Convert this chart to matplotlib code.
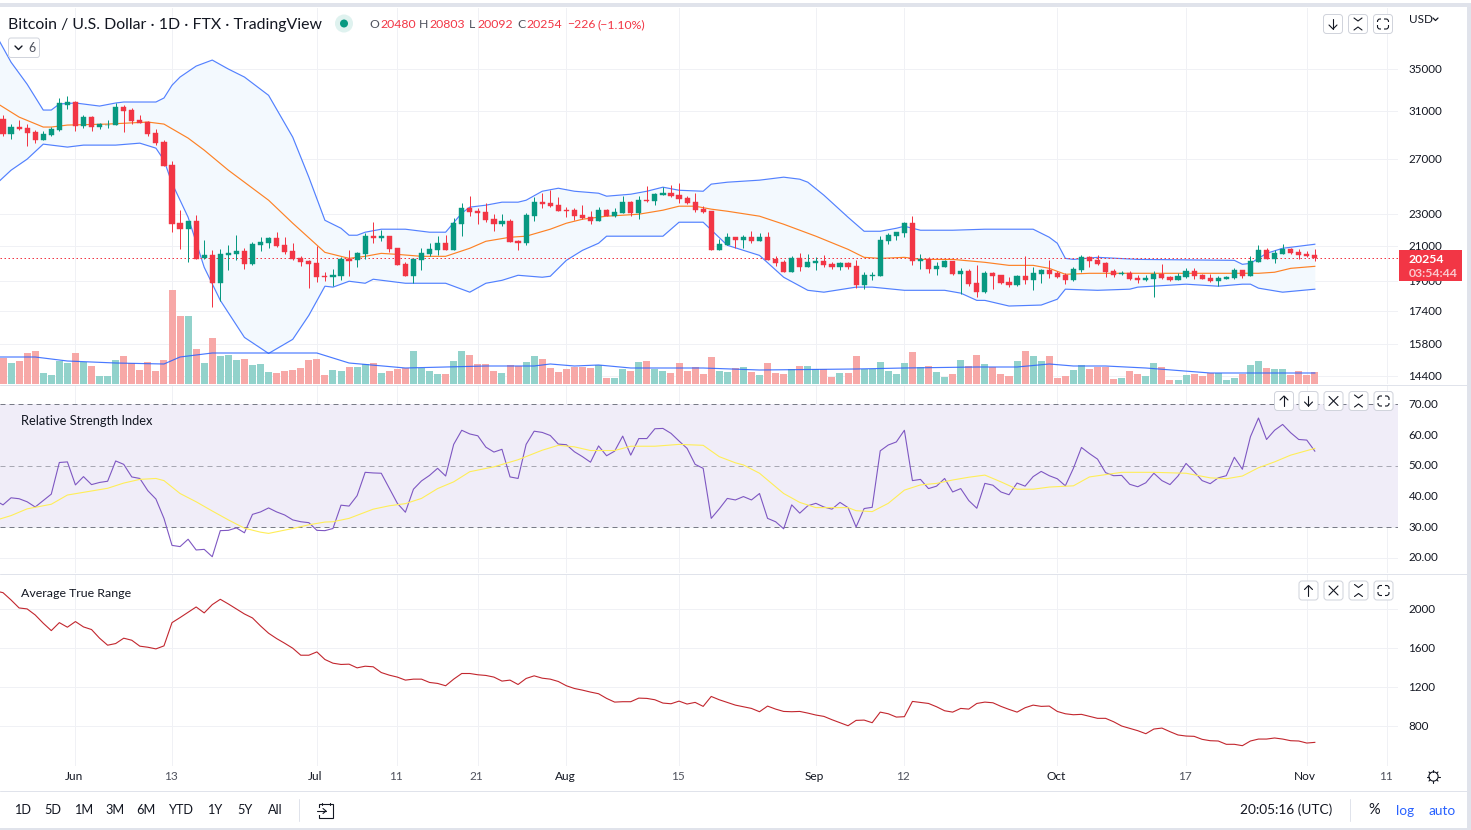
import numpy as np
import matplotlib
matplotlib.use('Agg')
import matplotlib.pyplot as plt
from matplotlib.patches import FancyBboxPatch, Rectangle, Circle
from matplotlib.transforms import ScaledTranslation

W, H = 1471, 830
FONT = 'Lato'
plt.rcParams['font.family'] = [FONT, 'DejaVu Sans']

open_p = [30290, 29005, 29600, 29510, 29170, 28500, 28920, 29340, 31545, 31818, 29685, 30465, 29600, 29770, 29770, 31363,
          31090, 30200, 30030, 29090, 28340, 26510, 22420, 22035, 22550, 20255, 20430, 18850, 20430, 20490, 20670, 19910,
          21035, 21160, 21470, 21035, 20670, 20255, 20080, 19965, 19235, 19180, 19235, 20195, 20140, 20490, 21595, 21470,
          21595, 20855, 19910, 19235, 20140, 20490, 20730, 21160, 20730, 22355, 23415, 23210, 23145, 22680, 22355, 22550,
          21280, 21160, 22880, 23825, 23755, 23620, 23280, 23280, 22945, 22810, 22550, 23280, 22880, 23080, 23825, 23080,
          23960, 23890, 24310, 24450, 24310, 24100, 23825, 23350, 23210, 20730, 21035, 21530, 21340, 21530, 21280, 21530,
          20195, 20025, 19460, 20255, 19740, 19965, 20080, 19910, 19740, 19965, 19795, 18745, 19235, 19235, 21280, 21595,
          21780, 22420, 20080, 20195, 19625, 19740, 20080, 19345, 19515, 18850, 18370, 19400, 19290, 18905, 18745, 19235,
          19010, 19345, 19570, 19400, 19290, 19010, 19570, 20315, 20140, 19965, 19515, 19375, 19400, 19125, 19010, 19070,
          19345, 19180, 19010, 19180, 19515, 19290, 19125, 18960, 19070, 19125, 19570, 19235, 20025, 20730, 20195, 20490,
          20790, 20610, 20490, 20480]
high_p = [30645, 29855, 30200, 29855, 29340, 29255, 29600, 32190, 32370, 31909, 30645, 30555, 29940, 30200, 31727, 31545,
          31272, 30645, 30115, 29425, 28500, 26825, 23280, 22550, 22945, 21340, 20730, 20790, 21035, 21655, 20855, 21220,
          21530, 21530, 21845, 21530, 21160, 20375, 20140, 20975, 19460, 19625, 20315, 20730, 20610, 21780, 22485, 21970,
          21595, 20855, 20025, 20195, 20855, 21160, 21595, 21655, 22745, 23755, 24240, 23415, 23755, 23010, 23010, 22680,
          21340, 23080, 24170, 24450, 24660, 24170, 23485, 23415, 23620, 23210, 23485, 23350, 23415, 24240, 23890, 24240,
          24950, 24450, 24880, 25025, 25170, 24240, 24450, 23550, 23210, 21405, 21780, 21530, 21655, 21905, 21780, 21845,
          20375, 20140, 20375, 20550, 20490, 20315, 20430, 20025, 20025, 20025, 20140, 19460, 19460, 21595, 21780, 21845,
          22485, 22880, 20490, 20315, 20025, 20140, 20080, 19680, 19625, 19850, 19515, 19460, 19290, 19180, 19290, 20375,
          19740, 19625, 20140, 19515, 19400, 19740, 20430, 20375, 20430, 20025, 19625, 19515, 19515, 19290, 19290, 19515,
          19910, 19235, 19400, 19680, 19680, 19345, 19345, 19235, 19235, 19680, 19570, 20375, 21035, 20855, 20730, 21100,
          20855, 20790, 20670, 20803]
low_p = [28835, 28585, 29340, 28015, 28255, 28500, 28835, 29255, 31181, 29255, 29510, 29255, 29425, 29510, 29770, 29170,
         29855, 29940, 28835, 28095, 26435, 21845, 20790, 20025, 20195, 20195, 17600, 17900, 19570, 20140, 19625, 19850,
         20670, 20855, 20915, 20490, 20140, 19795, 18585, 18905, 18960, 18690, 19010, 19235, 19740, 20195, 21160, 21280,
         20610, 19850, 19235, 18850, 19570, 20375, 20430, 20730, 20730, 21595, 22880, 22355, 22485, 21905, 22225, 21220,
         20730, 21035, 22550, 23415, 23485, 23210, 22810, 22610, 22680, 22355, 22550, 22880, 22810, 23080, 22880, 22680,
         23825, 23620, 24310, 24170, 23755, 23690, 23145, 23080, 20730, 20730, 21035, 20855, 20855, 21160, 21280, 20140,
         19795, 19460, 19460, 19515, 19740, 19570, 19740, 19625, 19570, 19625, 18585, 18530, 19010, 19235, 21100, 21340,
         21530, 19850, 19625, 19400, 19290, 19740, 19290, 18265, 18690, 18110, 18320, 18530, 18800, 18640, 18690, 18800,
         18470, 18850, 19125, 19125, 18800, 18960, 19460, 19740, 19850, 19180, 19180, 19290, 19010, 18850, 18960, 18110,
         19070, 18960, 19010, 19125, 19070, 19070, 18905, 18690, 19070, 19070, 19125, 19235, 20025, 20195, 19965, 20490,
         20490, 20195, 20315, 20092]
close_p = [29005, 29600, 29425, 29090, 28500, 29005, 29425, 31727, 31818, 29685, 30465, 29600, 29855, 29810, 31363, 31000,
           30115, 29940, 29005, 28255, 26435, 22355, 22035, 22550, 20195, 20430, 18850, 20490, 20550, 20670, 19910, 21100,
           21220, 21470, 20975, 20610, 20195, 20025, 19910, 19180, 19180, 19290, 20195, 20080, 20550, 21595, 21470, 21595,
           20790, 19850, 19235, 20195, 20550, 20790, 21160, 20730, 22420, 23415, 23145, 23080, 22610, 22355, 22550, 21220,
           21160, 22945, 23825, 23690, 23550, 23210, 23210, 22880, 22745, 22550, 23280, 22880, 23145, 23825, 23080, 23960,
           23890, 24380, 24450, 24240, 24030, 23755, 23280, 23145, 20730, 21100, 21530, 21340, 21530, 21280, 21530, 20140,
           19965, 19460, 20255, 19740, 20025, 20080, 19850, 19740, 19965, 19740, 18745, 19290, 19290, 21340, 21655, 21845,
           22420, 20080, 20195, 19625, 19795, 20080, 19345, 19515, 18800, 18370, 19400, 19235, 18850, 18745, 19235, 19010,
           19400, 19570, 19345, 19180, 19010, 19625, 20315, 20080, 19910, 19460, 19290, 19430, 19070, 19010, 19125, 19345,
           19125, 19010, 19235, 19515, 19235, 19070, 18960, 19125, 19180, 19570, 19235, 20080, 20730, 20195, 20550, 20790,
           20550, 20430, 20375, 20254]

volume = [26, 21, 23, 31, 33, 11, 9, 23, 21, 31, 22, 18, 8, 8, 24, 28, 21, 14, 22, 13, 24, 94, 68, 68, 35, 21, 46, 28, 29, 24,
          25, 19, 20, 12, 11, 13, 14, 16, 24, 25, 9, 14, 13, 17, 17, 20, 21, 11, 13, 15, 16, 33, 16, 13, 10, 10, 23, 33, 29,
          20, 20, 13, 11, 19, 18, 22, 28, 25, 16, 12, 15, 17, 17, 16, 19, 6, 6, 15, 13, 22, 23, 15, 13, 11, 21, 13, 17, 10,
          27, 13, 12, 16, 17, 12, 9, 21, 11, 10, 15, 18, 18, 15, 15, 7, 11, 11, 28, 15, 15, 22, 13, 10, 21, 32, 17, 18, 12,
          7, 10, 24, 18, 29, 20, 17, 10, 8, 23, 33, 28, 23, 28, 6, 8, 14, 19, 15, 17, 17, 5, 6, 13, 10, 8, 21, 17, 4, 4, 9,
          10, 8, 11, 11, 4, 6, 10, 19, 23, 16, 15, 15, 9, 13, 9, 12]
vol_ma_days = [-1, 4, 8, 14, 20, 22, 26, 39, 43, 50, 60, 66, 68, 71, 74, 78, 87, 94, 106, 112, 121, 126, 130, 133, 137, 142, 150, 163]
vol_ma = [27, 27, 23, 21, 20, 27, 31, 31, 21, 16, 18, 18, 20, 18, 19, 16, 16, 14, 15, 16, 17, 17, 20, 18, 18, 16, 11, 11]

# Bollinger bands, read where the curves bend
bb_upper_days = [-1, 1, 3, 5, 6, 7, 9, 12, 14, 15, 19, 20, 21, 22, 24, 26, 28, 30, 33, 36, 38, 40, 42, 43, 44, 45, 47, 50, 53, 55,
                 57, 58, 60, 62, 64, 65, 67, 69, 71, 74, 75, 78, 80, 82, 84, 87, 88, 90, 94, 97, 99, 100, 102, 105, 107, 109,
                 111, 112, 114, 118, 122, 128, 130, 131, 132, 133, 136, 141, 153, 154, 155, 157, 159, 161, 163]
bb_upper = [38840, 35700, 33500, 31090, 31090, 31640, 31730, 31450, 31730, 31820, 31820, 32190, 33400, 34200, 35300, 35920, 35000,
            34200, 32440, 28750, 25610, 22610, 22095, 21655, 21655, 21845, 22035, 22035, 21845, 21845, 23080, 23485, 23620,
            23825, 23825, 23960, 24590, 24805, 24590, 24450, 24240, 24380, 24590, 24880, 24660, 24590, 25100, 25240, 25390,
            25610, 25460, 25240, 24310, 22810, 21905, 21905, 22095, 22225, 21970, 21970, 22035, 22035, 21530, 21160, 20255,
            20195, 20315, 20195, 20140, 19910, 19965, 20550, 20855, 20975, 21100]
bb_basis_days = [-1, 2, 5, 6, 8, 13, 18, 20, 23, 25, 28, 30, 33, 36, 40, 43, 45, 47, 49, 52, 55, 58, 60, 63, 65, 68, 70, 72, 75, 77,
                 79, 82, 84, 86, 88, 90, 94, 97, 101, 105, 107, 109, 112, 114, 118, 122, 125, 128, 130, 132, 135, 141, 147, 153,
                 156, 158, 160, 163]
bb_basis = [31820, 30465, 29600, 29600, 29770, 29855, 30030, 29855, 28670, 27690, 26130, 25240, 23960, 22420, 20610, 20255, 20375,
            20550, 20490, 20375, 20375, 20855, 21280, 21530, 21595, 22035, 22420, 22680, 22880, 22945, 23010, 23280, 23550, 23550,
            23350, 23210, 22880, 22355, 21595, 20790, 20315, 20255, 20315, 20195, 20195, 20025, 19850, 19850, 19680, 19345, 19400,
            19400, 19400, 19400, 19400, 19460, 19680, 19795]
bb_lower_days = [-1, 1, 3, 5, 8, 10, 14, 17, 19, 20, 21, 23, 25, 27, 30, 33, 36, 38, 40, 41, 43, 45, 46, 50, 55, 58, 60, 62, 64, 67,
                 68, 70, 72, 74, 75, 82, 84, 87, 90, 94, 97, 100, 102, 106, 108, 112, 117, 119, 121, 122, 125, 129, 131, 132, 136,
                 140, 141, 147, 151, 154, 155, 156, 159, 163]
bb_lower = [25025, 26130, 26980, 28175, 27935, 28095, 28095, 28255, 27850, 26900, 25170, 22810, 19740, 17940, 16120, 15390, 16030,
            17180, 18690, 18640, 18960, 18850, 19070, 18850, 18850, 18370, 18850, 19010, 19290, 19180, 19235, 20140, 20730, 21160,
            21595, 21595, 22485, 22485, 21035, 20430, 19180, 18470, 18370, 18640, 18640, 18470, 18470, 18320, 17940, 17940, 17650,
            17700, 18000, 18530, 18470, 18530, 18640, 18800, 18690, 18800, 18800, 18585, 18370, 18530]

# RSI starts one day left of the first candle
rsi = [38.8, 37.3, 39.6, 39.3, 38.3, 36.6, 38.7, 40.8, 51.1, 51.3, 43.8, 46.5, 43.9, 44.6, 45.0, 51.6, 50.5, 46.4, 45.9, 41.9, 39.2,
       32.9, 24.1, 23.7, 26.1, 22.6, 22.8, 20.4, 28.9, 29.0, 29.8, 28.2, 34.2, 35.0, 36.3, 35.0, 34.0, 32.4, 31.8, 31.5, 29.0, 28.9,
       29.6, 37.2, 36.9, 40.3, 47.9, 47.7, 47.6, 42.7, 37.8, 34.9, 42.4, 45.1, 46.9, 49.2, 46.7, 57.0, 61.6, 60.4, 59.8, 56.1, 54.5,
       55.4, 46.4, 45.9, 57.0, 61.3, 60.9, 59.9, 57.1, 56.9, 54.6, 53.0, 51.2, 56.5, 53.3, 54.8, 59.7, 53.5, 58.9, 58.9, 62.1, 62.2,
       60.6, 58.1, 55.7, 50.5, 49.2, 32.9, 36.0, 39.4, 38.9, 40.0, 38.9, 41.0, 32.9, 31.8, 29.5, 37.3, 34.6, 37.0, 37.8, 36.6, 35.9,
       38.1, 36.4, 30.1, 36.1, 36.5, 54.9, 56.8, 57.8, 61.6, 45.2, 45.6, 42.6, 43.4, 45.9, 41.5, 42.6, 38.7, 36.2, 44.3, 43.7, 41.5,
       40.6, 44.4, 43.4, 46.5, 48.2, 46.8, 45.8, 43.5, 49.2, 56.0, 54.0, 52.2, 47.8, 46.8, 46.9, 44.0, 43.2, 44.5, 47.6, 45.2, 43.9,
       46.7, 50.8, 48.1, 45.2, 44.2, 46.1, 46.8, 52.8, 48.9, 59.5, 65.6, 58.6, 61.6, 63.5, 60.8, 58.6, 58.4, 54.8]
rsi_ma_days = [-1, 1, 3, 6, 8, 13, 15, 17, 19, 20, 22, 24, 26, 28, 30, 32, 33, 36, 38, 40, 41, 43, 46, 48, 50, 52, 54, 56, 58, 61, 64,
               67, 69, 71, 73, 76, 78, 81, 84, 87, 89, 91, 92, 94, 97, 99, 101, 105, 106, 108, 110, 112, 114, 116, 118, 120, 122,
               124, 126, 128, 130, 133, 135, 139, 143, 147, 150, 152, 154, 156, 158, 160, 163]
rsi_ma = [32.2, 33.8, 36.0, 37.5, 40.5, 42.7, 44.4, 45.6, 45.9, 45.2, 41.0, 38.3, 35.3, 32.4, 29.7, 28.4, 28.0, 29.6, 30.8, 31.7, 31.8,
          32.9, 35.9, 37.0, 37.7, 39.4, 42.6, 44.8, 48.1, 49.7, 52.0, 55.1, 56.7, 56.2, 55.0, 55.0, 56.4, 56.4, 57.0, 56.7, 53.0, 51.0,
          50.3, 47.6, 41.0, 38.1, 36.4, 36.4, 35.4, 35.1, 37.8, 42.1, 43.8, 44.3, 45.4, 46.3, 47.0, 44.8, 42.4, 42.4, 43.1, 43.5, 46.4,
          47.9, 47.9, 47.6, 46.1, 45.8, 46.7, 49.4, 51.3, 53.5, 55.7]

# ATR, same start as RSI
atr = [2190, 2171, 2096, 2014, 2004, 1942, 1857, 1781, 1863, 1816, 1874, 1819, 1792, 1703, 1631, 1648, 1703, 1682, 1621, 1610, 1593, 1624,
       1863, 1915, 1970, 2024, 1963, 2048, 2103, 2055, 2004, 1952, 1911, 1829, 1754, 1699, 1651, 1600, 1528, 1528, 1562, 1484, 1446, 1433,
       1436, 1398, 1415, 1409, 1350, 1323, 1303, 1272, 1282, 1282, 1248, 1238, 1214, 1282, 1340, 1340, 1327, 1320, 1303, 1262, 1272, 1227,
       1289, 1316, 1292, 1282, 1258, 1214, 1186, 1169, 1149, 1132, 1084, 1046, 1050, 1050, 1087, 1084, 1070, 1036, 1029, 1056, 1026, 1043,
       1002, 1104, 1070, 1043, 1015, 998, 981, 947, 1005, 974, 950, 947, 950, 933, 913, 899, 865, 834, 803, 858, 861, 834, 943, 926, 892,
       896, 1053, 1043, 1032, 998, 957, 943, 981, 974, 1032, 1046, 1039, 1002, 971, 943, 988, 1015, 1002, 1005, 950, 926, 916, 920, 899, 879,
       879, 844, 800, 776, 752, 721, 769, 779, 742, 708, 697, 694, 663, 649, 646, 612, 612, 598, 646, 666, 666, 677, 666, 649, 646, 625, 632]

time_tick_days = [9, 21, 39, 49, 59, 70, 84, 101, 112, 131, 147, 162, 172]
time_tick_labels = ['Jun', '13', 'Jul', '11', '21', 'Aug', '15', 'Sep', '12', 'Oct', '17', 'Nov', '11']
price_ticks = [35000, 31000, 27000, 23000, 21000, 19000, 17400, 15800, 14400]
rsi_ticks = [70, 60, 50, 40, 30, 20]
atr_ticks = [2000, 1600, 1200, 800]

GREEN, RED = '#089981', '#F23645'
GRID = '#F0F1F5'
BORDER = '#E0E3EB'
TEXT = '#131722'
GREY = '#50535E'
PX = 0.72  # one pixel in points at dpi 100

# bars sit at x = 3 + 8.048 * day pixels, the right price scale starts at 1398
XLIM = (-3 / 8.048, 1395 / 8.048)


def px_rect(x0, y0, x1, y1):
    return [x0 / W, 1 - y1 / H, (x1 - x0) / W, (y1 - y0) / H]


def style_pane(ax, ticks, labels, lift=1.0):
    ax.set_xlim(*XLIM)
    ax.set_yticks(ticks)
    ax.set_yticklabels(labels)
    ax.yaxis.set_minor_locator(plt.NullLocator())
    ax.yaxis.tick_right()
    ax.set_xticks(time_tick_days)
    ax.set_xticklabels([])
    ax.grid(True, color=GRID, lw=PX, zorder=0)
    ax.set_axisbelow(True)
    ax.tick_params(axis='both', which='both', length=0, labelsize=8.4, labelcolor=TEXT)
    ax.tick_params(axis='y', pad=7.5)
    for s in ax.spines.values():
        s.set_visible(False)
    # labels sit a touch above their grid line
    off = ScaledTranslation(0, lift / 100, fig.dpi_scale_trans)
    for lab in ax.get_yticklabels():
        lab.set_transform(lab.get_transform() + off)


fig = plt.figure(figsize=(W / 100, H / 100), dpi=100)

days = np.arange(len(close_p))
opens = np.array(open_p)
closes = np.array(close_p)
candle_colors = [GREEN if c >= o else RED for o, c in zip(open_p, close_p)]
vol_colors = ['#92D2CB' if c >= o else '#F7A8A7' for o, c in zip(open_p, close_p)]

# price pane
ax = fig.add_axes(px_rect(0, 8, 1398, 384))
ax.set_yscale('log')
ax.set_ylim(14090, 41750)
style_pane(ax, price_ticks, [str(t) for t in price_ticks], lift=0.5)

fill_days = np.arange(-1, 164)
ax.fill_between(fill_days, np.interp(fill_days, bb_lower_days, bb_lower), np.interp(fill_days, bb_upper_days, bb_upper),
                color='#F3F9FE', lw=0, zorder=1)
ax.plot(bb_upper_days, bb_upper, color='#2962FF', lw=0.85, alpha=0.8, zorder=2)
ax.plot(bb_lower_days, bb_lower, color='#2962FF', lw=0.85, alpha=0.8, zorder=2)
ax.plot(bb_basis_days, bb_basis, color='#FF6D00', lw=0.85, alpha=0.85, zorder=2)
ax.axhline(close_p[-1], color=RED, lw=PX, ls=(0, (1.5, 2.5)), zorder=2)

ax.vlines(days, low_p, high_p, colors=candle_colors, lw=PX, zorder=3)
ax.bar(days, np.abs(closes - opens), bottom=np.minimum(opens, closes), width=0.64, color=candle_colors,
       edgecolor=candle_colors, lw=0.3, zorder=4)

# volume shares the pane, tallest bars stay low
ax_vol = fig.add_axes(px_rect(0, 8, 1398, 384), sharex=ax)
ax_vol.patch.set_visible(False)
ax_vol.bar(days, volume, width=0.87, color=vol_colors, lw=0)
ax_vol.plot(vol_ma_days, vol_ma, color='#2962FF', lw=0.85, alpha=0.85)
ax_vol.set_ylim(0, 376)
ax_vol.axis('off')

# RSI pane
ax_rsi = fig.add_axes(px_rect(0, 385, 1398, 573))
ax_rsi.set_ylim(15.1, 76.35)
style_pane(ax_rsi, rsi_ticks, ['%.2f' % t for t in rsi_ticks])
ax_rsi.axhspan(30, 70, color='#F0EDF8', lw=0, zorder=1)
ax_rsi.axhline(70, color='#787B86', lw=PX, ls=(0, (5, 4)), zorder=2)
ax_rsi.axhline(50, color='#787B86', lw=PX, ls=(0, (5, 4)), alpha=0.6, zorder=2)
ax_rsi.axhline(30, color='#787B86', lw=PX, ls=(0, (5, 4)), zorder=2)
ax_rsi.plot(np.arange(-1, 164), rsi, color='#7E57C2', lw=0.8, zorder=3)
ax_rsi.plot(rsi_ma_days, rsi_ma, color='#FFEE58', lw=0.8, zorder=3)

# ATR pane
ax_atr = fig.add_axes(px_rect(0, 574, 1398, 766))
ax_atr.set_ylim(389, 2363)
style_pane(ax_atr, atr_ticks, [str(t) for t in atr_ticks])
ax_atr.plot(np.arange(-1, 164), atr, color='#C2262E', lw=0.8, zorder=3)
ax_atr.set_xticklabels(time_tick_labels)
ax_atr.tick_params(axis='x', pad=3.5, labelsize=8.6)
x_off = ScaledTranslation(-1.5 / 100, 0, fig.dpi_scale_trans)
for lab in ax_atr.get_xticklabels():
    lab.set_color(TEXT if lab.get_text().isalpha() else GREY)
    lab.set_transform(lab.get_transform() + x_off)

# window furniture, drawn in pixel coordinates over everything
ov = fig.add_axes([0, 0, 1, 1], zorder=10)
ov.set_xlim(0, W)
ov.set_ylim(H, 0)
ov.axis('off')
ov.patch.set_visible(False)


def label(x, y, s, size=8.8, color=TEXT, ha='left', **kw):
    ov.text(x, y, s, fontsize=size, color=color, ha=ha, va='center', **kw)


def seg(xs, ys, color=TEXT, lw=0.8):
    ov.plot(xs, ys, color=color, lw=lw, solid_capstyle='round')


def button(cx, cy, kind):
    ov.add_patch(FancyBboxPatch((cx - 9.5, cy - 9.5), 19, 19, boxstyle='round,pad=0,rounding_size=3',
                                fc='white', ec='#D1D4DC', lw=PX))
    if kind == 'up':
        seg([cx, cx], [cy - 5, cy + 5])
        seg([cx - 4, cx, cx + 4], [cy - 1, cy - 5, cy - 1])
    elif kind == 'down':
        seg([cx, cx], [cy - 5, cy + 5])
        seg([cx - 4, cx, cx + 4], [cy + 1, cy + 5, cy + 1])
    elif kind == 'close':
        seg([cx - 4.5, cx + 4.5], [cy - 4.5, cy + 4.5])
        seg([cx - 4.5, cx + 4.5], [cy + 4.5, cy - 4.5])
    elif kind == 'collapse':
        seg([cx - 4, cx, cx + 4], [cy - 6, cy - 3, cy - 6])
        seg([cx - 4, cx, cx + 4], [cy + 6, cy + 3, cy + 6])
    else:
        ov.add_patch(FancyBboxPatch((cx - 5.5, cy - 5), 11, 10, boxstyle='round,pad=0,rounding_size=2.5',
                                    fc='white', ec=TEXT, lw=0.8))
        ov.add_patch(Rectangle((cx - 7, cy - 1.5), 14, 3, fc='white', lw=0))
        ov.add_patch(Rectangle((cx - 1.5, cy - 7), 3, 14, fc='white', lw=0))


for x0, y0, x1, y1 in [(0, 3.3, 1471, 7.3), (1467, 3.3, 1471, 830), (0, 827.5, 1471, 829.5)]:
    ov.add_patch(Rectangle((x0, y0), x1 - x0, y1 - y0, fc=BORDER, lw=0))
for y in [384.5, 573.5, 790.5]:
    seg([0, 1467], [y, y], color=BORDER, lw=PX)

# header
label(8, 24.5, 'Bitcoin / U.S. Dollar · 1D · FTX · TradingView', size=11.4, color=TEXT)
ov.add_patch(Circle((344, 23.5), 9, fc='#DFF2EF', lw=0))
ov.add_patch(Circle((344, 23.5), 4, fc=GREEN, lw=0))
for x, s, c in [(369, 'O', GREY), (380, '20480', RED), (419, 'H', GREY), (429, '20803', RED), (469, 'L', GREY),
                (477, '20092', RED), (517, 'C', GREY), (526, '20254', RED), (567, '−226', RED), (598, '(−1.10%)', RED)]:
    label(x, 24.5, s, size=8.8, color=c)

ov.add_patch(FancyBboxPatch((8.5, 38), 31, 19.5, boxstyle='round,pad=0,rounding_size=2.5', fc='white', ec='#D1D4DC', lw=PX))
seg([15, 18.5, 22], [46, 49.5, 46], lw=1)
label(28, 48, '6', size=9, color=GREY)

for cx, k in [(1333, 'down'), (1358, 'collapse'), (1383, 'max')]:
    button(cx, 24, k)
for cx, k in [(1284, 'up'), (1308.5, 'down'), (1333.5, 'close'), (1358.5, 'collapse'), (1383.5, 'max')]:
    button(cx, 401, k)
for cx, k in [(1308.5, 'up'), (1333.5, 'close'), (1358.5, 'collapse'), (1383.5, 'max')]:
    button(cx, 590.5, k)

label(1409, 19.5, 'USD', size=8.4)
seg([1433, 1435.5, 1438], [18, 20.5, 18], lw=0.9)

label(21, 421, 'Relative Strength Index', size=9.25)
label(21, 593, 'Average True Range', size=8.9)

# last price tag
ov.add_patch(Rectangle((1399, 250), 63, 31, fc=RED, lw=0))
label(1409, 259, '20254', size=8.8, color='white', fontweight='bold')
label(1409, 273, '03:54:44', size=8.8, color='#FBC7CC', fontweight='bold')

# gear under the price scale
ov.add_patch(Circle((1433.5, 776.5), 4.6, fc='none', ec=TEXT, lw=0.8))
for a in np.deg2rad(np.arange(0, 360, 45)):
    seg([1433.5 + 4.6 * np.cos(a), 1433.5 + 6.4 * np.cos(a)], [776.5 + 4.6 * np.sin(a), 776.5 + 6.4 * np.sin(a)])

# bottom toolbar
for x, s in [(23, '1D'), (53, '5D'), (84, '1M'), (115, '3M'), (146, '6M'), (181, 'YTD'), (215, '1Y'), (245, '5Y'), (275, 'All')]:
    label(x, 810, s, size=9.2, ha='center')
seg([299.5, 299.5], [799, 821], color=BORDER, lw=PX)
ov.add_patch(Rectangle((319, 804), 14, 14, fc='none', ec=TEXT, lw=0.8))
ov.add_patch(Rectangle((316, 807.5), 8, 7, fc='white', lw=0))
seg([317, 326], [811, 811])
seg([323, 326, 323], [808.5, 811, 813.5])
seg([322, 322], [802.5, 805])
seg([330, 330], [802.5, 805])

label(1240, 810, '20:05:16 (UTC)', size=9.8)
seg([1350.5, 1350.5], [799, 821], color=BORDER, lw=PX)
label(1374, 810, '%', size=10.5, ha='center')
label(1405, 810.5, 'log', size=9.8, color='#2962FF', ha='center')
label(1442, 810.5, 'auto', size=9.8, color='#2962FF', ha='center')

fig.savefig('out.png', dpi=100, facecolor='white')
